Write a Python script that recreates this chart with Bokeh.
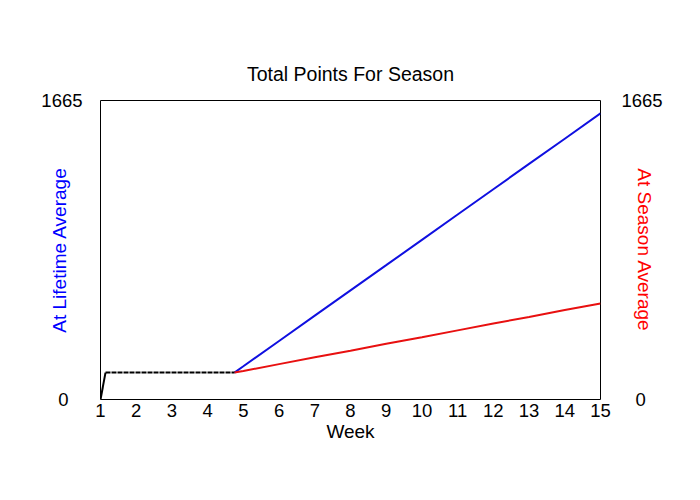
from bokeh.plotting import figure
from bokeh.models import Range1d, LinearAxis, FixedTicker
from bokeh.embed import file_html
from bokeh.resources import INLINE

# ---- data ----
start_weeks = [1.0, 1.14]
start_points = [0, 150]
flat_weeks = [1.14, 4.75]
flat_points = [150, 150]
proj_weeks = [4.75, 5, 6, 7, 8, 9, 10, 11, 12, 13, 14, 15]
lifetime_points = [150, 185, 326, 467, 608, 748, 889, 1030, 1171, 1312, 1452, 1593]
season_points = [150, 159, 197, 235, 272, 310, 347, 385, 423, 460, 498, 535]
x_ticks = list(range(1, 16))
y_ticks = [0, 1665]

FONT = "Liberation Sans"
FS = "18.5px"
FS_LABEL = "19px"

p = figure(width=684, height=484, output_backend="svg", toolbar_location=None,
           x_range=Range1d(1, 15), y_range=Range1d(0, 1665),
           x_axis_location=None, y_axis_location=None,
           min_border_left=100, min_border_right=84, min_border_top=100, min_border_bottom=85,
           title="Total Points For Season")
p.extra_y_ranges = {"right": Range1d(0, 1665)}
p.grid.visible = False
p.outline_line_color = "black"
p.outline_line_width = 1
p.outline_line_alpha = 1
p.background_fill_color = "white"
p.border_fill_color = "white"

p.title.text_font = FONT
p.title.text_font_size = "19.5px"
p.title.text_font_style = "normal"
p.title.align = "center"
p.title.text_color = "black"
p.title.standoff = 31

def style(ax):
    ax.axis_line_color = None
    ax.major_tick_line_color = None
    ax.minor_tick_line_color = None
    ax.major_tick_out = 0
    ax.major_tick_in = 0
    ax.major_label_text_font = FONT
    ax.major_label_text_font_size = FS
    ax.major_label_text_color = "black"
    ax.axis_label_text_font = FONT
    ax.axis_label_text_font_size = FS_LABEL
    ax.axis_label_text_font_style = "normal"

xa = LinearAxis(ticker=FixedTicker(ticks=x_ticks), axis_label="Week")
style(xa)
xa.major_label_standoff = 4
xa.axis_label_standoff = 1
xa.axis_label_text_color = "black"
p.add_layout(xa, "below")

ya = LinearAxis(ticker=FixedTicker(ticks=y_ticks), axis_label="At Lifetime Average")
style(ya)
ya.major_label_standoff = 18
ya.major_label_overrides = {0: "0\u2007\u2009"}
ya.axis_label_standoff = -32
ya.axis_label_text_color = "#0000FF"
p.add_layout(ya, "left")

ya2 = LinearAxis(y_range_name="right", ticker=FixedTicker(ticks=y_ticks), axis_label="At Season Average")
style(ya2)
ya2.major_label_standoff = 21
ya2.major_label_overrides = {0: "\u2007\u20090"}
ya2.axis_label_standoff = -32
ya2.axis_label_text_color = "#FF0000"
p.add_layout(ya2, "right")

p.line(proj_weeks, lifetime_points, line_color="#1010E0", line_width=2)
p.line(proj_weeks, season_points, line_color="#E81010", line_width=2)
p.line(start_weeks, start_points, line_color="black", line_width=2)
p.line(flat_weeks, flat_points, line_color="black", line_width=2, line_dash="5 1")

open("out.html", "w").write(file_html(p, INLINE))
